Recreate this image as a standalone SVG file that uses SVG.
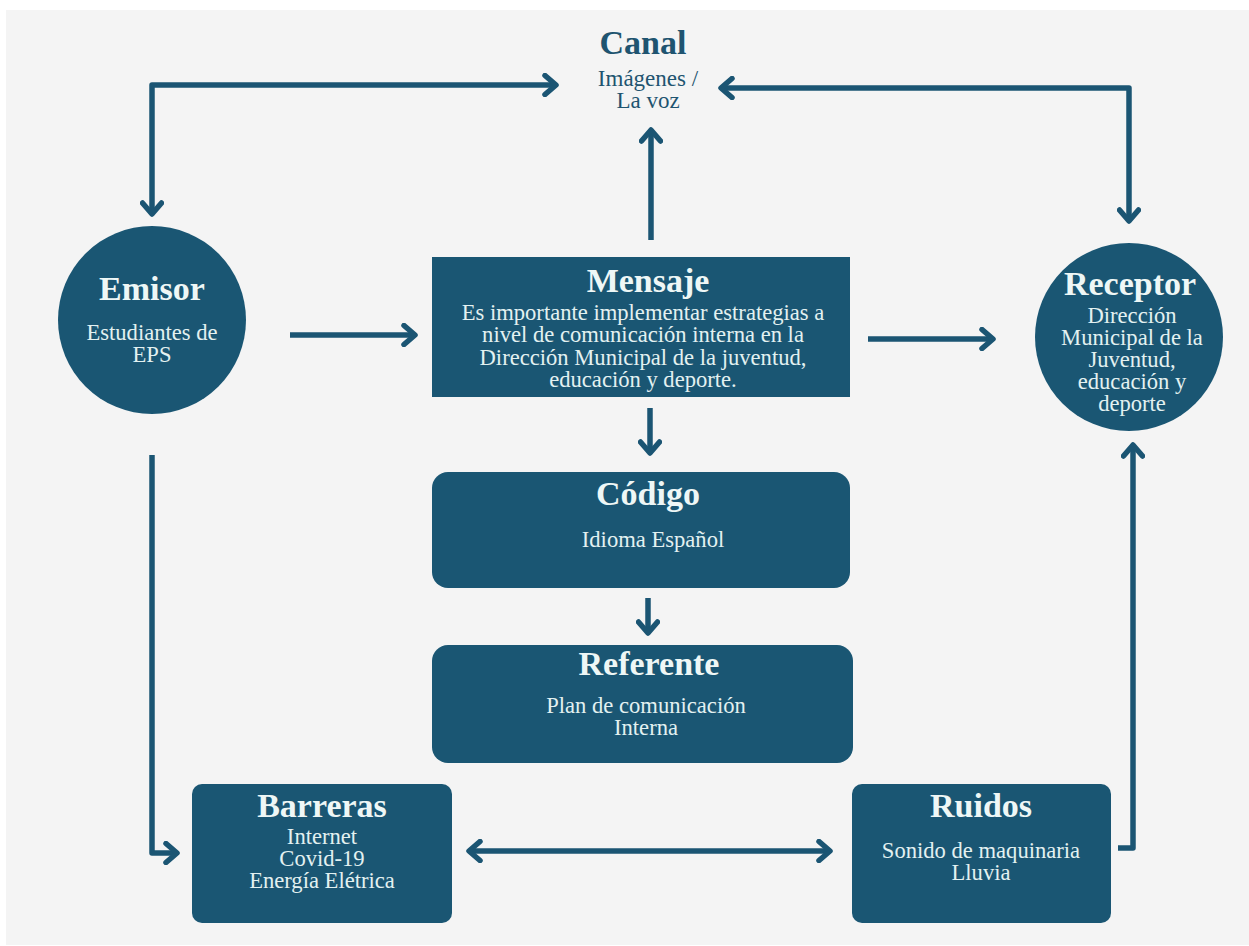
<svg xmlns="http://www.w3.org/2000/svg" width="1249" height="946" viewBox="0 0 1249 946">
  <defs>
    <marker id="chev" viewBox="0 0 24 24" refX="18" refY="12" markerWidth="24" markerHeight="24" markerUnits="userSpaceOnUse" orient="auto-start-reverse">
      <polyline points="7,2.5 18,12 7,21.5" fill="none" stroke="#1b5573" stroke-width="5.5" stroke-linecap="round" stroke-linejoin="round"/>
    </marker>
    <style>
      .node { fill: #1a5673; }
      .title { font-family: "Liberation Serif", "Times New Roman", serif; font-weight: bold; font-size: 34px; fill: #eef7f6; text-anchor: middle; }
      .body { font-family: "Liberation Serif", "Times New Roman", serif; font-size: 22.6px; fill: #e3f1f1; text-anchor: middle; }
      .canal { font-family: "Liberation Serif", "Times New Roman", serif; fill: #1f5470; text-anchor: middle; }
      .conn { fill: none; stroke: #1b5573; stroke-width: 5.5; stroke-linejoin: round; }
    </style>
  </defs>

  <rect x="0" y="0" width="1249" height="946" fill="#ffffff"/>
  <rect x="6" y="10" width="1243" height="935" fill="#f4f4f4"/>

  <g id="connectors" class="conn">
    <path d="M152,214 V85 H556" marker-start="url(#chev)" marker-end="url(#chev)"/>
    <path d="M1129,221 V88 H721" marker-start="url(#chev)" marker-end="url(#chev)"/>
    <path d="M651,240 V130" marker-end="url(#chev)"/>
    <path d="M290,335 H415" marker-end="url(#chev)"/>
    <path d="M868,339 H993" marker-end="url(#chev)"/>
    <path d="M650,408 V453" marker-end="url(#chev)"/>
    <path d="M648,598 V633" marker-end="url(#chev)"/>
    <path d="M152,455 V853 H177" marker-end="url(#chev)"/>
    <path d="M469,851 H830" marker-start="url(#chev)" marker-end="url(#chev)"/>
    <path d="M1118,848 H1133 V445" marker-end="url(#chev)"/>
  </g>

  <g id="canal">
    <text class="canal" x="643" y="54" font-weight="bold" font-size="34">Canal</text>
    <text class="canal" x="648" y="86" font-size="23">Imágenes /</text>
    <text class="canal" x="648" y="108" font-size="23">La voz</text>
  </g>

  <g id="emisor">
    <circle class="node" cx="152" cy="320" r="94"/>
    <text class="title" x="152" y="300">Emisor</text>
    <text class="body" x="152" y="340">Estudiantes de</text>
    <text class="body" x="152" y="362">EPS</text>
  </g>

  <g id="mensaje">
    <rect class="node" x="432" y="257" width="418" height="140"/>
    <text class="title" x="648" y="292">Mensaje</text>
    <text class="body" x="643" y="320">Es importante implementar estrategias a</text>
    <text class="body" x="643" y="342">nivel de comunicación interna en la</text>
    <text class="body" x="643" y="365">Dirección Municipal de la juventud,</text>
    <text class="body" x="643" y="387">educación y deporte.</text>
  </g>

  <g id="receptor">
    <circle class="node" cx="1129" cy="337" r="94"/>
    <text class="title" x="1130" y="295">Receptor</text>
    <text class="body" x="1132" y="323">Dirección</text>
    <text class="body" x="1132" y="345">Municipal de la</text>
    <text class="body" x="1132" y="367">Juventud,</text>
    <text class="body" x="1132" y="389">educación y</text>
    <text class="body" x="1132" y="411">deporte</text>
  </g>

  <g id="codigo">
    <rect class="node" x="432" y="472" width="418" height="116" rx="16"/>
    <text class="title" x="648" y="505">Código</text>
    <text class="body" x="653" y="547">Idioma Español</text>
  </g>

  <g id="referente">
    <rect class="node" x="432" y="645" width="421" height="118" rx="16"/>
    <text class="title" x="649" y="675">Referente</text>
    <text class="body" x="646" y="713">Plan de comunicación</text>
    <text class="body" x="646" y="735">Interna</text>
  </g>

  <g id="barreras">
    <rect class="node" x="192" y="784" width="260" height="139" rx="10"/>
    <text class="title" x="322" y="817">Barreras</text>
    <text class="body" x="322" y="844">Internet</text>
    <text class="body" x="322" y="866">Covid-19</text>
    <text class="body" x="322" y="888">Energía Elétrica</text>
  </g>

  <g id="ruidos">
    <rect class="node" x="852" y="784" width="259" height="139" rx="10"/>
    <text class="title" x="981" y="817">Ruidos</text>
    <text class="body" x="981" y="858">Sonido de maquinaria</text>
    <text class="body" x="981" y="880">Lluvia</text>
  </g>
</svg>
